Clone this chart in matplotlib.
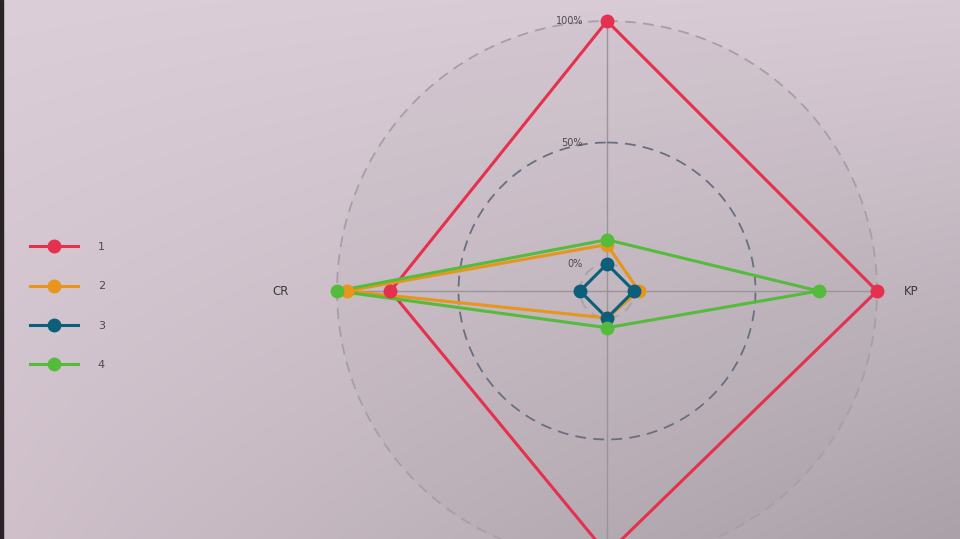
import numpy as np
import matplotlib
matplotlib.use("Agg")
import matplotlib.pyplot as plt
from matplotlib.lines import Line2D

# ---- data (rescaled 0..1) ----
axis_labels = ["", "KP", "", "CR"]          # top, right, bottom, left
groups = ["1", "2", "3", "4"]
series_1 = [1.00, 1.00, 0.97, 0.78]
series_2 = [0.08, 0.02, 0.00, 0.96]
series_3 = [0.00, 0.00, 0.00, 0.00]
series_4 = [0.10, 0.76, 0.04, 1.00]
grid_values = [0.0, 0.5, 1.0]
grid_labels = ["0%", "50%", "100%"]

colors = ["#e5304e", "#e8951c", "#0b5f7a", "#55bb3c"]
all_series = [series_1, series_2, series_3, series_4]

W, H, DPI = 960, 539, 100
fig = plt.figure(figsize=(W / DPI, H / DPI), dpi=DPI)

# photographed-screen background gradient
bg = fig.add_axes([0, 0, 1, 1], zorder=-10)
yy, xx = np.mgrid[0:1:200j, 0:1:360j]
tl = np.array([219, 206, 216]) / 255
tr = np.array([216, 202, 213]) / 255
bl = np.array([207, 192, 202]) / 255
br = np.array([170, 162, 168]) / 255
img = (tl[None, None, :] * ((1 - xx) * (1 - yy))[..., None]
       + tr[None, None, :] * (xx * (1 - yy))[..., None]
       + bl[None, None, :] * ((1 - xx) * yy)[..., None]
       + br[None, None, :] * (xx * yy)[..., None])
bg.imshow(img, aspect="auto", extent=[0, 1, 1, 0])
bg.set_xlim(0, 1); bg.set_ylim(1, 0)
bg.axis("off")
bg.axvspan(0, 3 / W, color="#2a2226")

# polar radar axes
cx, cy, R = 607, 291, 270
ax = fig.add_axes([(cx - R) / W, (H - cy - R) / H, 2 * R / W, 2 * R / H],
                  projection="polar")
ax.set_theta_zero_location("N")
ax.set_theta_direction(-1)
rmin = -1 / 9
ax.set_ylim(rmin, 1.0)
ax.patch.set_facecolor("#8a8288")
ax.patch.set_alpha(0.06)
ax.spines["polar"].set_visible(False)
ax.grid(False)
ax.set_xticks([]); ax.set_yticks([])

n = len(axis_labels)
theta = np.arange(n) * 2 * np.pi / n

# axis lines
for t in theta:
    ax.plot([t, t], [rmin, 1.0], color="#9a959a", lw=1.0, zorder=1, clip_on=False)

# grid circles
tt = np.linspace(0, 2 * np.pi, 400)
grid_cols = ["#a8a4a8", "#687080", "#a4a0a4"]
for gv, gc in zip(grid_values, grid_cols):
    ax.plot(tt, np.full_like(tt, gv), color=gc, lw=1.3, ls=(0, (6, 4)),
            zorder=1, clip_on=False)

# grid labels
for gv, gl in zip(grid_values, grid_labels):
    ax.annotate(gl, xy=(0, gv), xytext=(-24, 0), textcoords="offset pixels",
                ha="right", va="center", fontsize=7, color="#4a4a4a",
                annotation_clip=False)

# series
for s, c in zip(all_series, colors):
    th = np.append(theta, theta[0])
    rr = np.append(s, s[0])
    ax.plot(th, rr, color=c, lw=2.2, zorder=3, clip_on=False)
    ax.plot(theta, s, ls="none", marker="o", ms=9, color=c, zorder=4,
            clip_on=False)

# axis labels
for t, lab in zip(theta, axis_labels):
    if not lab:
        continue
    if np.isclose(np.sin(t), 1):
        ax.text(t, 1.11, lab, ha="left", va="center", fontsize=8.5,
                color="#3a3a3a", clip_on=False)
    else:
        ax.text(t, 1.20, lab, ha="right", va="center", fontsize=8.5,
                color="#3a3a3a", clip_on=False)

# legend
handles = [Line2D([0], [0], color=c, lw=2.2, marker="o", ms=9) for c in colors]
leg = fig.legend(handles, groups, loc="upper left",
                 bbox_to_anchor=(20 / W, 1 - 232 / H), frameon=False,
                 handlelength=4.3, handletextpad=1.8, labelspacing=2.65,
                 fontsize=8, labelcolor="#4a4a4a")

fig.savefig("out.png", dpi=DPI)
